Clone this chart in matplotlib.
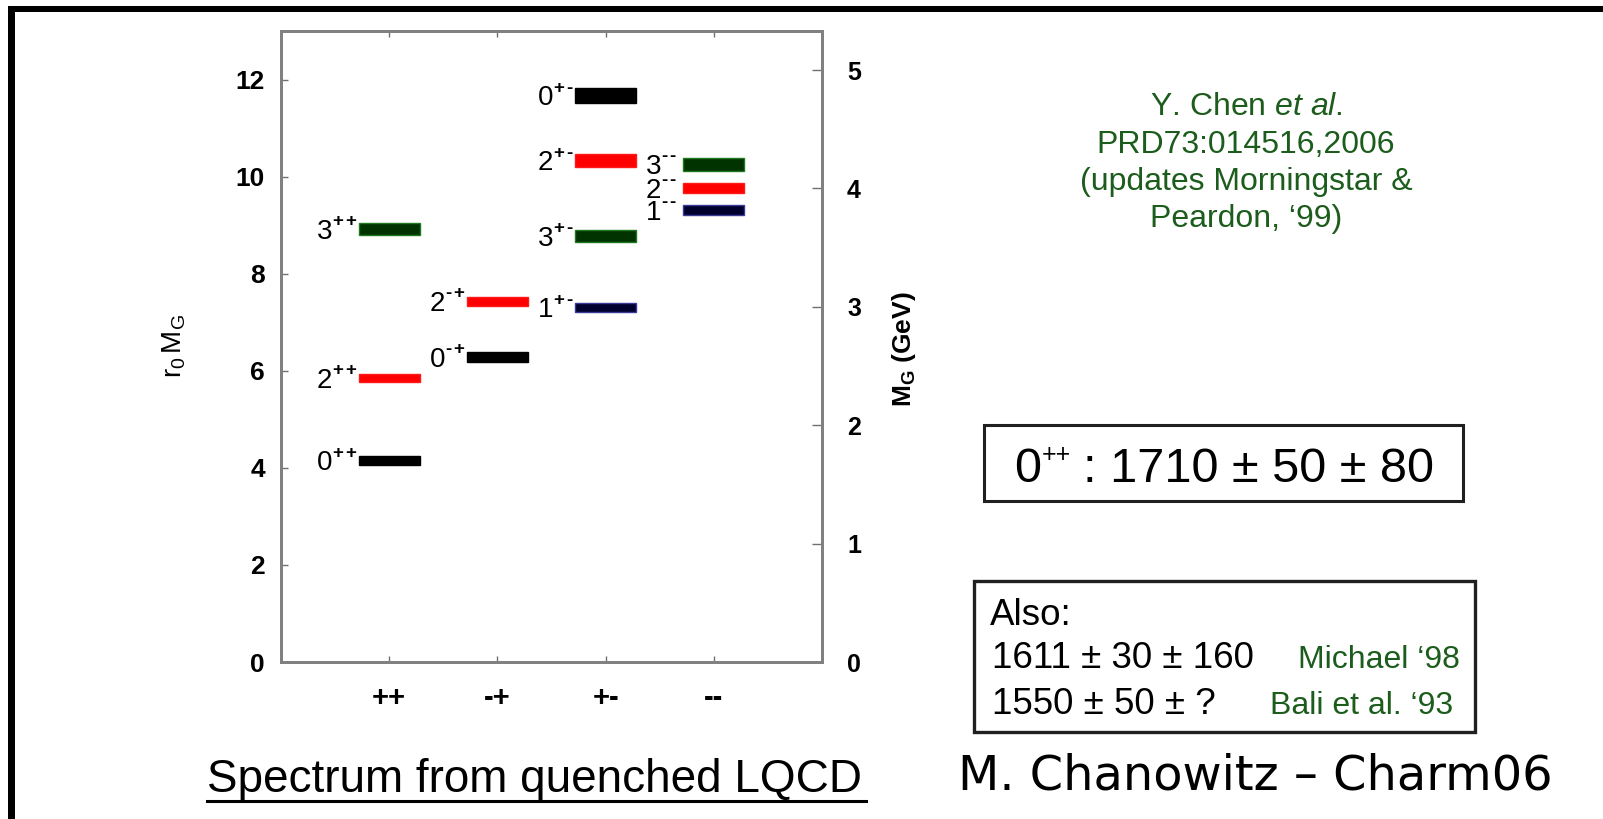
import matplotlib
matplotlib.use("Agg")
import matplotlib.pyplot as plt
from matplotlib.patches import Rectangle
from matplotlib.lines import Line2D
from matplotlib.transforms import IdentityTransform

plt.rcParams['font.family'] = ['Liberation Sans', 'DejaVu Sans']
plt.rcParams['mathtext.fontset'] = 'custom'
plt.rcParams['mathtext.rm'] = 'Liberation Sans'
plt.rcParams['mathtext.it'] = 'Liberation Sans:italic'
plt.rcParams['mathtext.bf'] = 'Liberation Sans:bold'

# ---- data: glueball spectrum, r0*M_G (centre, half-width of the band) ----
channels = ['++', '-+', '+-', '--']
state_J = ['0', '2', '3', '0', '2', '0', '2', '3', '1', '3', '2', '1']
state_PC = ['++', '++', '++', '-+', '-+', '+-', '+-', '+-', '+-', '--', '--', '--']
state_mass = [4.15, 5.85, 8.92, 6.28, 7.43, 11.67, 10.33, 8.77, 7.30, 10.25, 9.76, 9.31]
state_err = [0.10, 0.08, 0.12, 0.10, 0.09, 0.16, 0.13, 0.12, 0.09, 0.13, 0.10, 0.11]
state_color = ['black', 'red', 'green', 'black', 'red', 'black', 'red', 'green',
               'navy', 'green', 'red', 'navy']
r0_inv_gev = 0.410          # 1/r0 in GeV
yticks_left = [0, 2, 4, 6, 8, 10, 12]
yticks_right = [0, 1, 2, 3, 4, 5]

fill = {'black': '#000000', 'red': '#ff0000', 'green': '#003300', 'navy': '#00002e'}
edge = {'black': '#000000', 'red': '#ff1a1a', 'green': '#1f7a1f', 'navy': '#3b3b9a'}

W, H = 1603, 819
fig = plt.figure(figsize=(W / 100, H / 100), dpi=100)
renderer = fig.canvas.get_renderer()
ident = IdentityTransform()


def fx(px):
    return px / W


def fy(py):
    return 1 - py / H


def text_width(t):
    return t.get_window_extent(renderer).width


def sup_label(x, y, base, sup, size, sup_size, raise_px, align='right',
              color='black', sup_weight='normal', sup_split=False, sup_gap=0.0,
              rest='', rest_gap=0.0):
    """Write base^sup (+ optional trailing text) in display pixels.
    x, y: anchor (baseline) in display pixels; align: 'right', 'left', 'center'."""
    parts = [(base, size, 0.0, 'normal', 0.0)]
    if sup_split:
        for i, ch in enumerate(sup):
            parts.append((ch, sup_size, raise_px, sup_weight, sup_gap if i else 0.0))
    else:
        parts.append((sup, sup_size, raise_px, sup_weight, 0.0))
    if rest:
        parts.append((rest, size, 0.0, 'normal', rest_gap))
    arts, widths = [], []
    for s, fs, dy, wt, gap in parts:
        t = fig.text(0, 0, s, fontsize=fs, fontweight=wt, color=color,
                     transform=ident, ha='left', va='baseline')
        arts.append(t)
        widths.append(text_width(t) + gap)
    total = sum(widths)
    x0 = {'right': x - total, 'left': x, 'center': x - total / 2}[align]
    for (s, fs, dy, wt, gap), t, w in zip(parts, arts, widths):
        t.set_position((x0 + gap, y + dy))
        x0 += w
    return arts


ax = fig.add_axes([fx(281), fy(662), fx(822) - fx(281), fy(31) - fy(662)])
ax.set_xlim(0, 5)
ax.set_ylim(0, 13)

bar_w = 0.565
for J, pc, m, e, c in zip(state_J, state_PC, state_mass, state_err, state_color):
    xc = channels.index(pc) + 1
    ax.bar(xc, 2 * e, bottom=m - e, width=bar_w, color=fill[c],
           edgecolor=edge[c], linewidth=1.0, zorder=3)

ax.set_xticks(range(1, len(channels) + 1))
ax.set_xticklabels(channels, fontsize=21, fontweight='bold')
ax.set_yticks(yticks_left)
ax.set_yticklabels([str(v) for v in yticks_left], fontsize=19, fontweight='bold')
ax.tick_params(axis='x', direction='in', length=4, width=1, color='#707070',
               top=True, pad=16)
ax.tick_params(axis='y', direction='in', length=5, width=1, color='#707070',
               right=False, pad=11.5)
for s in ax.spines.values():
    s.set_color('#808080')
    s.set_linewidth(2)

ax2 = ax.twinx()
ax2.set_ylim(0, 13 * r0_inv_gev)
ax2.set_yticks(yticks_right)
ax2.set_yticklabels([str(v) for v in yticks_right], fontsize=18, fontweight='bold')
ax2.tick_params(axis='y', direction='in', length=7, width=1, color='#707070', pad=18)
for s in ax2.spines.values():
    s.set_color('#808080')
    s.set_linewidth(2)

# J^PC labels to the left of each band
for J, pc, m in zip(state_J, state_PC, state_mass):
    xc = channels.index(pc) + 1
    gap_px = 8 if pc == '--' else 3
    px, py = ax.transData.transform((xc - bar_w / 2, m))
    sup_label(px - gap_px, py - 9.5, J, pc, 20, 13.5, 12.5, align='right',
              sup_weight='bold', sup_split=True, sup_gap=1.5)

fig.text(fx(174), fy(346), r'$\mathregular{r_0\,M_G}$', rotation=90,
         ha='center', va='center', fontsize=20)
fig.text(fx(904), fy(349), r'$\mathbf{M_G}$ (GeV)', rotation=90,
         ha='center', va='center', fontsize=19, fontweight='bold')

# caption under the plot
fig.text(fx(207), fy(792), 'Spectrum from quenched LQCD', ha='left', va='baseline',
         fontsize=33)
fig.add_artist(Line2D([fx(207), fx(866)], [fy(801), fy(801)], lw=2.2, color='black'))

# reference block
green = '#1c5c1c'
ref_lines = [r'Y. Chen $\mathit{et\ al}$.', 'PRD73:014516,2006',
             '(updates Morningstar &', 'Peardon, \u201899)']
for txt, yb in zip(ref_lines, [115, 153, 190, 227]):
    fig.text(fx(1246), fy(yb), txt, ha='center', va='baseline', fontsize=23,
             color=green)

# boxed result
fig.add_artist(Rectangle((fx(984), fy(501)), fx(1463) - fx(984), fy(425) - fy(501),
                         fill=False, edgecolor='#202020', lw=2.2,
                         transform=fig.transFigure))
sup_label(1224, H - 482, '0', '++', 35, 18, 20, align='center',
          rest=': 1710 \u00b1 50 \u00b1 80', rest_gap=12)

fig.add_artist(Rectangle((fx(974), fy(732)), fx(1475) - fx(974), fy(581) - fy(732),
                         fill=False, edgecolor='#202020', lw=2.4,
                         transform=fig.transFigure))
fig.text(fx(990), fy(625), 'Also:', ha='left', va='baseline', fontsize=26.5)
fig.text(fx(992), fy(668), '1611 \u00b1 30 \u00b1 160', ha='left', va='baseline',
         fontsize=26.5)
fig.text(fx(992), fy(714), '1550 \u00b1 50 \u00b1 ?', ha='left', va='baseline',
         fontsize=26.5)
fig.text(fx(1460), fy(668), 'Michael \u201898', ha='right', va='baseline',
         fontsize=23, color=green)
fig.text(fx(1453), fy(714), 'Bali et al. \u201893', ha='right', va='baseline',
         fontsize=23, color=green)

fig.text(fx(958), fy(790), 'M. Chanowitz \u2013 Charm06', ha='left', va='baseline',
         fontsize=34.5, family='DejaVu Sans')

# slide frame
fig.add_artist(Rectangle((fx(8), fy(11.5)), 1 - fx(8), fy(6) - fy(11.5),
                         color='black', transform=fig.transFigure, lw=0))
fig.add_artist(Rectangle((fx(8), 0), fx(15) - fx(8), fy(6),
                         color='black', transform=fig.transFigure, lw=0))

fig.savefig('out.png', dpi=100)
